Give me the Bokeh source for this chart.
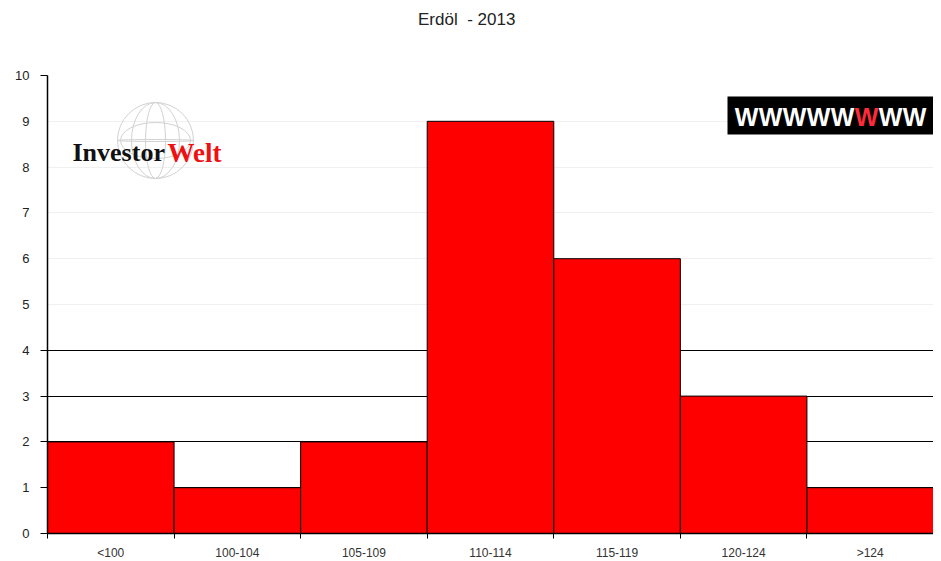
from bokeh.plotting import figure
from bokeh.layouts import column
from bokeh.models import FixedTicker, Range1d, Label, BoxAnnotation, Grid, ColumnDataSource, Div
from bokeh.core.properties import value
from bokeh.embed import file_html
from bokeh.resources import INLINE

# ---- data ----
categories = ["<100", "100-104", "105-109", "110-114", "115-119", "120-124", ">124"]
counts = [2, 1, 2, 9, 6, 3, 1]
y_ticks = list(range(0, 11))
title_text = "Erdöl  - 2013"

# ---- layout helpers (page px -> data) ----
FX0, FW = 47, 886
FY0, FH = 75, 458
TITLE_H = 40
def dx(px):
    return (px - FX0) / FW * len(categories)
def dy(py):
    return (FY0 + FH - py) / FH * 10

title_div = Div(text=('<div style="margin-left:418px; margin-top:10px; '
                      'font-family:\'Liberation Sans\'; font-size:17px; color:#222222; '
                      'white-space:pre; line-height:20px">' + title_text + '</div>'),
                width=FX0 + FW, height=TITLE_H, margin=0)

p = figure(frame_width=FW, frame_height=FH,
           x_range=Range1d(0, len(categories)), y_range=Range1d(0, 10),
           output_backend="svg", toolbar_location=None,
           min_border_left=FX0, min_border_right=0, min_border_top=FY0 - TITLE_H,
           min_border_bottom=10,
           background_fill_color="white", border_fill_color="white")
p.outline_line_color = None
p.title.visible = False

# grids
p.xgrid.visible = False
p.ygrid.ticker = FixedTicker(ticks=[1, 2, 3, 4, 10])
p.ygrid.grid_line_color = "black"
p.ygrid.grid_line_width = 1
faint = Grid(dimension=1, ticker=FixedTicker(ticks=[5, 6, 7, 8, 9]),
             grid_line_color="#f0f0f0", grid_line_width=1)
p.add_layout(faint)

# bars
src = ColumnDataSource(dict(x=[i + 0.5 for i in range(len(categories))], top=counts))
p.vbar(x="x", top="top", bottom=0, width=1, source=src,
       fill_color="#ff0000", line_color="black", line_width=1)

# x axis
xa = p.xaxis[0]
xa.ticker = FixedTicker(ticks=[i + 0.5 for i in range(len(categories))],
                        minor_ticks=list(range(len(categories) + 1)))
xa.major_label_overrides = {i + 0.5: c for i, c in enumerate(categories)}
xa.major_tick_out = 0
xa.major_tick_in = 0
xa.minor_tick_out = 5
xa.minor_tick_in = 0
xa.minor_tick_line_color = "black"
xa.axis_line_color = "black"
xa.axis_line_width = 1.5
xa.major_label_standoff = 7
xa.major_label_text_font = "Liberation Sans"
xa.major_label_text_font_size = "12px"
xa.major_label_text_color = "#333333"

# y axis
ya = p.yaxis[0]
ya.ticker = FixedTicker(ticks=y_ticks, minor_ticks=[0, 1, 2, 3, 4, 10])
ya.major_tick_out = 0
ya.major_tick_in = 0
ya.minor_tick_out = 7
ya.minor_tick_in = 0
ya.minor_tick_line_color = "black"
ya.axis_line_color = "black"
ya.axis_line_width = 1.5
ya.major_label_standoff = 11
ya.major_label_text_font = "Liberation Sans"
ya.major_label_text_font_size = "13px"
ya.major_label_text_color = "#222222"

# ---- InvestorWelt logo ----
gx, gy = dx(155), dy(140)
p.scatter(x=[gx], y=[gy], size=76, marker="circle", fill_color=None,
          line_color="#d2d2d2", line_width=1)
p.ellipse(x=[gx, gx], y=[gy, gy], width=[48, 20], height=[76, 76],
          width_units="screen", height_units="screen",
          fill_color=None, line_color="#d2d2d2", line_width=1)
p.ellipse(x=[gx, gx], y=[gy, gy], width=[76, 70], height=[2, 36],
          width_units="screen", height_units="screen",
          fill_color=None, line_color="#d2d2d2", line_width=1)
p.add_layout(Label(x=dx(72), y=dy(152), text="Investor", text_font="Liberation Serif",
                   text_font_size="26px", text_font_style="bold", text_color="#111111",
                   text_baseline="alphabetic", text_align="left"))
p.add_layout(Label(x=dx(167), y=dy(152), text="Welt", text_font="Liberation Serif",
                   text_font_size="27px", text_font_style="bold", text_color="#ee1111",
                   text_baseline="alphabetic", text_align="left"))

# ---- black banner with W's ----
p.add_layout(BoxAnnotation(left=dx(727), right=dx(937), top=dy(96), bottom=dy(134),
                           fill_color="black", fill_alpha=1, line_color=None,
                           level="underlay"))
w_chars = list("WWWWWWWW")
w_colors = ["white"] * 5 + ["#ff2a3a"] + ["white"] * 2
w_src = ColumnDataSource(dict(x=[dx(734 + 24.0 * (i + 0.5)) for i in range(len(w_chars))],
                              y=[dy(116)] * len(w_chars), t=w_chars, c=w_colors))
p.text(x="x", y="y", text="t", text_color="c", source=w_src,
       text_font=value("Liberation Sans"), text_font_style="bold",
       text_font_size="25px", text_align="center", text_baseline="middle")

layout = column(title_div, p, spacing=0)
open("out.html", "w").write(file_html(layout, INLINE))
